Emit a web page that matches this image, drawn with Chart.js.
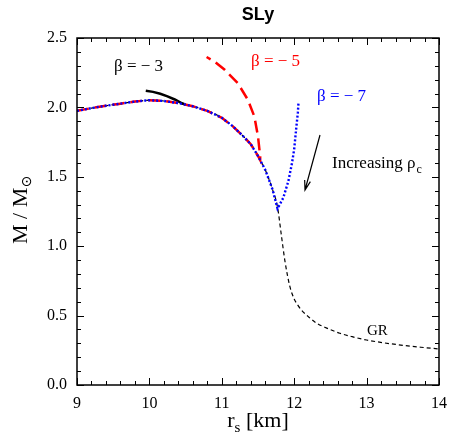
<!DOCTYPE html>
<html>
<head>
<meta charset="utf-8">
<script src="https://cdn.jsdelivr.net/npm/chart.js@4.4.1/dist/chart.umd.min.js"></script>
<style>
  html, body { margin: 0; padding: 0; background: #fff; }
  canvas { display: block; }
</style>
</head>
<body>
<canvas id="massRadiusChart" width="457" height="443"></canvas>
<script>
// tick labels
const xTicks = [9, 10, 11, 12, 13, 14];
const yTicks = [0.0, 0.5, 1.0, 1.5, 2.0, 2.5];
const xMinorStep = 0.2;
const yMinorStep = 0.1;

// GR (black dashed)
const grR = [9.0, 9.2, 9.4, 9.6, 9.8, 10.0, 10.2, 10.4, 10.6, 10.8, 11.0, 11.15, 11.3, 11.4, 11.5, 11.6, 11.7, 11.77,
             11.82, 11.87, 11.94, 12.0, 12.05, 12.1, 12.2, 12.31, 12.45, 12.63, 12.8, 13.0, 13.25, 13.5, 13.75, 14.0];
const grM = [1.975, 1.995, 2.012, 2.027, 2.042, 2.052, 2.046, 2.031, 2.008, 1.975, 1.925, 1.865, 1.79, 1.735, 1.65, 1.55, 1.41, 1.28,
             1.09, 0.90, 0.71, 0.62, 0.575, 0.54, 0.49, 0.445, 0.41, 0.373, 0.348, 0.324, 0.303, 0.286, 0.272, 0.26];

// beta = -3 (black solid branch)
const b3R = [10.5, 10.45, 10.35, 10.25, 10.15, 10.05, 9.95];
const b3M = [2.02, 2.03, 2.057, 2.08, 2.098, 2.112, 2.12];

// beta = -5 (red dashed)
const b5R = [9.0, 9.2, 9.4, 9.6, 9.8, 10.0, 10.2, 10.4, 10.6, 10.8, 11.0, 11.15, 11.3, 11.4, 11.5, 11.53,
             11.53, 11.5, 11.45, 11.36, 11.22, 11.04, 10.9, 10.79];
const b5M = [1.975, 1.995, 2.012, 2.027, 2.042, 2.052, 2.046, 2.031, 2.008, 1.975, 1.925, 1.865, 1.79, 1.735, 1.65, 1.62,
             1.646, 1.79, 1.934, 2.055, 2.175, 2.271, 2.33, 2.363];

// beta = -7 (blue dotted)
const b7R = [9.0, 9.2, 9.4, 9.6, 9.8, 10.0, 10.2, 10.4, 10.6, 10.8, 11.0, 11.15, 11.3, 11.4, 11.5, 11.6, 11.7, 11.77,
             11.85, 11.92, 11.97, 12.0, 12.03, 12.05, 12.06];
const b7M = [1.975, 1.995, 2.012, 2.027, 2.042, 2.052, 2.046, 2.031, 2.008, 1.975, 1.925, 1.865, 1.79, 1.735, 1.65, 1.55, 1.41, 1.27,
             1.35, 1.47, 1.60, 1.70, 1.86, 1.96, 2.04];

function toPoints(xs, ys) {
    return xs.map((v, i) => ({ x: v, y: ys[i] }));
}

const serif = '"Liberation Serif", "Times New Roman", serif';
const sans = '"Liberation Sans", Arial, sans-serif';

// draws frame, inward ticks, labels and arrow
const decorPlugin = {
    id: 'decor',
    afterDraw(chart) {
        const ctx = chart.ctx;
        const a = chart.chartArea;
        const xs = chart.scales.x;
        const ys = chart.scales.y;
        ctx.save();

        // frame
        ctx.strokeStyle = '#000';
        ctx.lineWidth = 1.5;
        ctx.strokeRect(a.left, a.top, a.right - a.left, a.bottom - a.top);

        // inward ticks on all four sides
        ctx.lineWidth = 1;
        ctx.beginPath();
        const nx = Math.round((xs.max - xs.min) / xMinorStep);
        for (let i = 0; i <= nx; i++) {
            const v = xs.min + i * xMinorStep;
            const px = Math.round(xs.getPixelForValue(v)) + 0.5;
            const len = xTicks.some(t => Math.abs(t - v) < 1e-6) ? 7 : 4;
            ctx.moveTo(px, a.bottom); ctx.lineTo(px, a.bottom - len);
            ctx.moveTo(px, a.top); ctx.lineTo(px, a.top + len);
        }
        const ny = Math.round((ys.max - ys.min) / yMinorStep);
        for (let i = 0; i <= ny; i++) {
            const v = ys.min + i * yMinorStep;
            const py = Math.round(ys.getPixelForValue(v)) + 0.5;
            const len = yTicks.some(t => Math.abs(t - v) < 1e-6) ? 7 : 4;
            ctx.moveTo(a.left, py); ctx.lineTo(a.left + len, py);
            ctx.moveTo(a.right, py); ctx.lineTo(a.right - len, py);
        }
        ctx.stroke();

        // title
        ctx.fillStyle = '#000';
        ctx.textBaseline = 'alphabetic';
        ctx.textAlign = 'center';
        ctx.font = 'bold 18px ' + sans;
        ctx.fillText('SLy', 258, 20);

        // x axis title: r_s [km]
        ctx.textAlign = 'left';
        ctx.font = '22px ' + serif;
        const rW = ctx.measureText('r').width;
        ctx.font = '15px ' + serif;
        const sW = ctx.measureText('s').width;
        ctx.font = '22px ' + serif;
        const restW = ctx.measureText(' [km]').width;
        let x0 = 258 - (rW + sW + restW) / 2;
        ctx.fillText('r', x0, 427);
        ctx.font = '15px ' + serif;
        ctx.fillText('s', x0 + rW, 432);
        ctx.font = '22px ' + serif;
        ctx.fillText(' [km]', x0 + rW + sW, 427);

        // y axis title: M / M_sun (rotated)
        ctx.save();
        ctx.translate(27, 244);
        ctx.rotate(-Math.PI / 2);
        ctx.font = '22px ' + serif;
        ctx.fillText('M / M', 0, 0);
        const mW = ctx.measureText('M / M').width;
        ctx.font = '14px "DejaVu Sans", sans-serif';
        ctx.fillText('\u2299', mW + 0.5, 4);
        ctx.restore();

        // curve labels
        ctx.font = '17px ' + serif;
        ctx.fillStyle = '#000';
        ctx.fillText('\u03b2 = \u2212 3', 114, 71);
        ctx.fillStyle = '#ff0000';
        ctx.fillText('\u03b2 = \u2212 5', 251, 66);
        ctx.fillStyle = '#0000ff';
        ctx.fillText('\u03b2 = \u2212 7', 317, 101);

        ctx.fillStyle = '#000';
        ctx.fillText('Increasing \u03c1', 332, 168);
        const incW = ctx.measureText('Increasing \u03c1').width;
        ctx.font = '12px ' + serif;
        ctx.fillText('c', 332 + incW + 1, 173);

        ctx.font = '15px ' + serif;
        ctx.fillText('GR', 367, 335);

        // arrow
        ctx.strokeStyle = '#000';
        ctx.lineWidth = 1.2;
        const ax0 = 320, ay0 = 135, ax1 = 305, ay1 = 190;
        const ang = Math.atan2(ay1 - ay0, ax1 - ax0);
        ctx.beginPath();
        ctx.moveTo(ax0, ay0); ctx.lineTo(ax1, ay1);
        ctx.moveTo(ax1 - 10 * Math.cos(ang - 0.3), ay1 - 10 * Math.sin(ang - 0.3));
        ctx.lineTo(ax1, ay1);
        ctx.lineTo(ax1 - 10 * Math.cos(ang + 0.3), ay1 - 10 * Math.sin(ang + 0.3));
        ctx.stroke();

        ctx.restore();
    }
};

const ctx = document.getElementById('massRadiusChart').getContext('2d');
const massRadiusChart = new Chart(ctx, {
    type: 'scatter',
    data: {
        datasets: [
            {
                label: 'beta -7',
                data: toPoints(b7R, b7M),
                showLine: true,
                borderColor: '#0000ff',
                borderWidth: 2.4,
                borderDash: [2, 2],
                pointRadius: 0,
                tension: 0
            },
            {
                label: 'beta -5',
                data: toPoints(b5R, b5M),
                showLine: true,
                borderColor: '#ff0000',
                borderWidth: 2.5,
                borderDash: [12, 6],
                pointRadius: 0,
                tension: 0
            },
            {
                label: 'beta -3',
                data: toPoints(b3R, b3M),
                showLine: true,
                borderColor: '#000000',
                borderWidth: 2.5,
                pointRadius: 0,
                tension: 0
            },
            {
                label: 'GR',
                data: toPoints(grR, grM),
                showLine: true,
                borderColor: '#000000',
                borderWidth: 1.2,
                borderDash: [4, 3],
                pointRadius: 0,
                cubicInterpolationMode: 'monotone'
            }
        ]
    },
    options: {
        responsive: false,
        animation: false,
        events: [],
        layout: {
            padding: { left: 10, right: 18, top: 38, bottom: 0 }
        },
        plugins: {
            legend: { display: false },
            tooltip: { enabled: false },
            title: { display: false }
        },
        scales: {
            x: {
                type: 'linear',
                min: xTicks[0],
                max: xTicks[xTicks.length - 1],
                grid: { display: false, drawTicks: false },
                border: { display: false },
                afterBuildTicks: scale => { scale.ticks = xTicks.map(v => ({ value: v })); },
                afterFit: scale => { scale.height = 58; },
                ticks: {
                    padding: 9,
                    color: '#000',
                    font: { family: serif, size: 16 },
                    callback: v => String(v)
                }
            },
            y: {
                type: 'linear',
                min: yTicks[0],
                max: yTicks[yTicks.length - 1],
                grid: { display: false, drawTicks: false },
                border: { display: false },
                afterBuildTicks: scale => { scale.ticks = yTicks.map(v => ({ value: v })); },
                afterFit: scale => { scale.width = 67; },
                ticks: {
                    padding: 10,
                    color: '#000',
                    font: { family: serif, size: 16 },
                    callback: v => Number(v).toFixed(1)
                }
            }
        }
    },
    plugins: [decorPlugin]
});
</script>
</body>
</html>
